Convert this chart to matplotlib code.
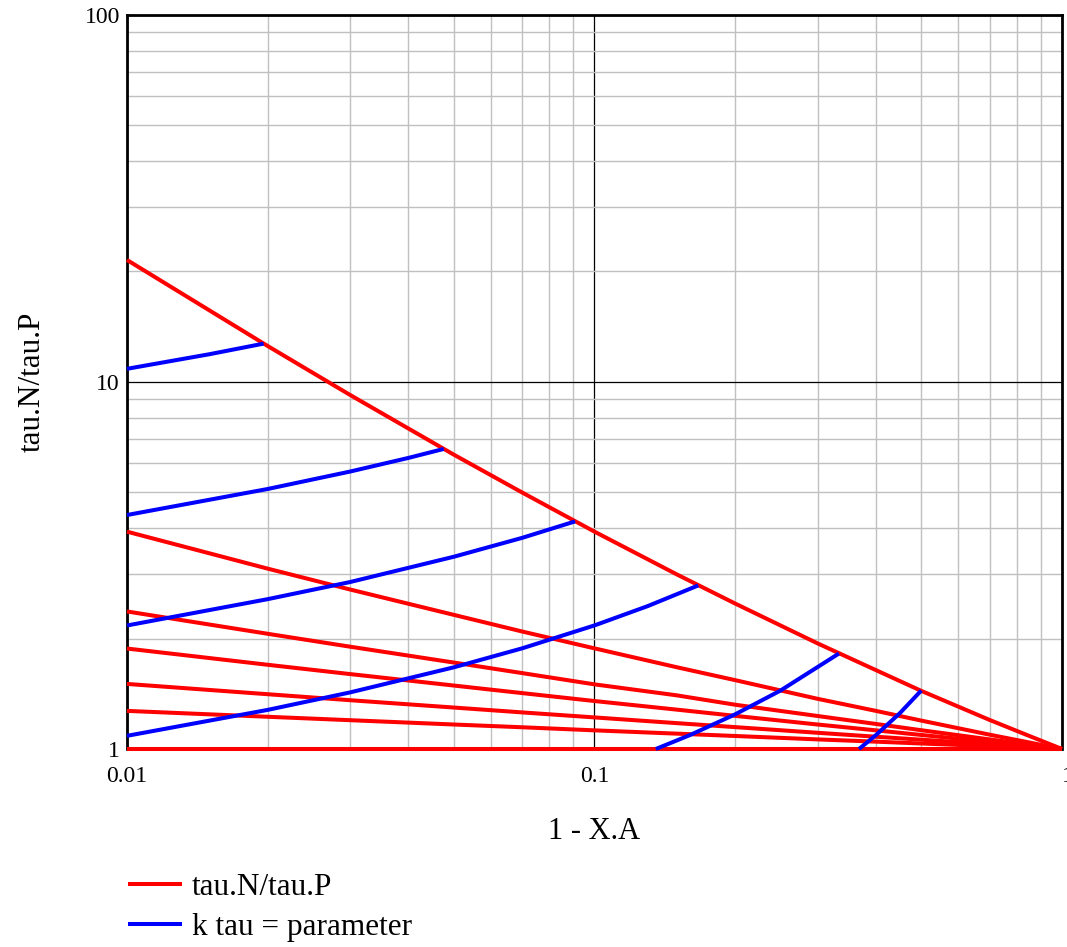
import numpy as np
import matplotlib
matplotlib.use("Agg")
import matplotlib.pyplot as plt
from matplotlib.ticker import FixedLocator, FixedFormatter, LogLocator, NullFormatter

plt.rcParams['font.family'] = ['Liberation Serif', 'DejaVu Serif']

# 1 - X.A values shared by the red curves
x_red = [0.01, 0.02, 0.03, 0.05, 0.07, 0.1, 0.15, 0.2, 0.3, 0.4, 0.5, 0.7, 0.85, 1.0]

# tau.N/tau.P, one list per curve (top to bottom)
red_n1 = [21.5, 12.53, 9.22, 6.34, 5.00, 3.91, 2.99, 2.49, 1.94, 1.64, 1.44, 1.20, 1.086, 1.0]
red_n2 = [3.91, 3.10, 2.72, 2.32, 2.09, 1.88, 1.67, 1.54, 1.37, 1.27, 1.195, 1.094, 1.042, 1.0]
red_n3 = [2.37, 2.06, 1.90, 1.72, 1.61, 1.50, 1.40, 1.32, 1.23, 1.17, 1.125, 1.062, 1.028, 1.0]
red_n4 = [1.878, 1.696, 1.600, 1.489, 1.420, 1.351, 1.280, 1.231, 1.166, 1.124, 1.092, 1.046, 1.021, 1.0]
red_n6 = [1.504, 1.410, 1.358, 1.297, 1.258, 1.219, 1.176, 1.147, 1.107, 1.080, 1.060, 1.031, 1.0135, 1.0]
red_n10 = [1.270, 1.224, 1.198, 1.166, 1.146, 1.124, 1.101, 1.085, 1.062, 1.047, 1.035, 1.018, 1.008, 1.0]
red_inf = [1.0] * len(x_red)
red_curves = [red_n1, red_n2, red_n3, red_n4, red_n6, red_n10, red_inf]

# blue lines, k tau = 50, 20, 10, 5, 2, 1
blue_x = [
    [0.01, 0.015, 0.0196],
    [0.01, 0.02, 0.03, 0.04, 0.0476],
    [0.01, 0.02, 0.03, 0.05, 0.07, 0.0909],
    [0.01, 0.02, 0.03, 0.05, 0.07, 0.1, 0.13, 0.1667],
    [0.1353, 0.16, 0.2, 0.25, 0.3333],
    [0.368, 0.4, 0.45, 0.5],
]
blue_y = [
    [10.86, 11.9, 12.72],
    [4.34, 5.11, 5.70, 6.21, 6.57],
    [2.17, 2.56, 2.85, 3.34, 3.76, 4.17],
    [1.086, 1.278, 1.426, 1.669, 1.880, 2.171, 2.451, 2.79],
    [1.0, 1.091, 1.243, 1.443, 1.820],
    [1.0, 1.091, 1.252, 1.443],
]

fig = plt.figure(figsize=(10.67, 9.47), dpi=100)
ax = fig.add_axes([0.119, 0.2091, 0.8763, 0.7751])

for i, y in enumerate(red_curves):
    ax.plot(x_red, y, color='#ff0000', lw=2.9, solid_capstyle='butt', zorder=3,
            clip_on=False, label='tau.N/tau.P' if i == 0 else None)
for i, (bx, by) in enumerate(zip(blue_x, blue_y)):
    ax.plot(bx, by, color='#0000ff', lw=2.9, solid_capstyle='butt', zorder=4,
            clip_on=False, label='k tau = parameter' if i == 0 else None)

ax.set_xscale('log')
ax.set_yscale('log')
ax.set_xlim(0.01, 1)
ax.set_ylim(1, 100)

ax.xaxis.set_major_locator(FixedLocator([0.01, 0.1, 1]))
ax.xaxis.set_major_formatter(FixedFormatter(['0.01', '0.1', '1']))
ax.yaxis.set_major_locator(FixedLocator([1, 10, 100]))
ax.yaxis.set_major_formatter(FixedFormatter(['1', '10', '100']))
for a in (ax.xaxis, ax.yaxis):
    a.set_minor_locator(LogLocator(base=10, subs=np.arange(2, 10)))
    a.set_minor_formatter(NullFormatter())

ax.grid(which='minor', color='#c0c0c0', lw=1.0)
ax.grid(which='major', color='black', lw=0.9)
ax.set_axisbelow(True)
ax.tick_params(which='both', length=0, labelsize=17)
ax.tick_params(axis='x', pad=12)
ax.tick_params(axis='y', pad=5)

# the "1" at the right end sits mostly past the figure edge, as in the original
ax.get_xticklabels()[-1].set_horizontalalignment('left')

for s in ('left', 'top', 'right'):
    ax.spines[s].set_linewidth(2)
ax.spines['bottom'].set_visible(False)

ax.set_xlabel('1 - X.A', fontsize=22, labelpad=22)
ax.set_ylabel('tau.N/tau.P', fontsize=22.5, labelpad=27)

fig.legend(loc='upper left', bbox_to_anchor=(0.108, 0.091), frameon=False,
           fontsize=22.5, handlelength=1.75, handletextpad=0.3, labelspacing=0.35,
           borderaxespad=0)

fig.savefig('out.png', dpi=100)
